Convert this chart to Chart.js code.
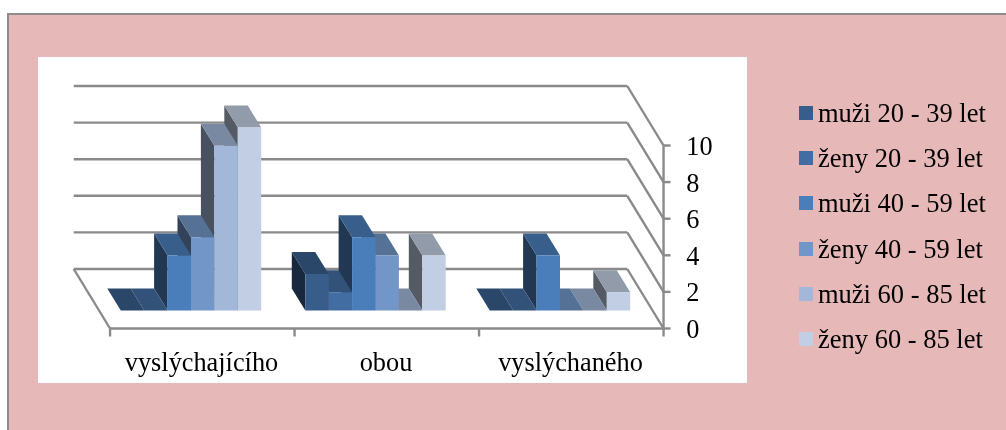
<!DOCTYPE html>
<html>
<head>
<meta charset="utf-8">
<title>Graf</title>
<script src="https://cdn.jsdelivr.net/npm/chart.js@4"></script>
<style>
  html, body { margin: 0; height: 100%; background: #fff; overflow: hidden; }
  #panel { position: absolute; left: 7px; top: 13px; right: 0; bottom: 0; background: #e6b8b7; border-left: 2px solid #8c8c8c; border-top: 2px solid #8c8c8c; }
  #plot { position: absolute; left: 38px; top: 57px; width: 709px; height: 326px; background: #fff; }
  #chart { position: absolute; left: 0; top: 0; }
  #legend { position: absolute; left: 799px; top: 91px; margin: 0; padding: 0; list-style: none; font: 26.5px "Liberation Serif", serif; color: #000; }
  #legend li { height: 45.2px; line-height: 45.2px; white-space: nowrap; position: relative; padding-left: 19px; }
  #legend i { position: absolute; left: 0; top: 15px; width: 14px; height: 14px; }
</style>
</head>
<body>
<div id="panel"></div>
<div id="plot"></div>
<canvas id="chart" width="1006" height="430"></canvas>
<ul id="legend"></ul>
<script>
const categories = ['vyslýchajícího', 'obou', 'vyslýchaného'];
const seriesNames = ['muži 20 - 39 let', 'ženy 20 - 39 let', 'muži 40 - 59 let', 'ženy 40 - 59 let', 'muži 60 - 85 let', 'ženy 60 - 85 let'];
const muzi2039 = [0, 2, 0];
const zeny2039 = [0, 1, 0];
const muzi4059 = [3, 4, 3];
const zeny4059 = [4, 3, 0];
const muzi6085 = [9, 0, 0];
const zeny6085 = [10, 3, 1];
const seriesValues = [muzi2039, zeny2039, muzi4059, zeny4059, muzi6085, zeny6085];
const seriesColors = ['#385d8a', '#426da3', '#4a7ebb', '#7396c8', '#a3b7d8', '#c1cee3'];
const yTicks = [0, 2, 4, 6, 8, 10];

// darker shade for the top and side faces of a bar
function shade(hex, f) {
  const n = parseInt(hex.slice(1), 16);
  return 'rgb(' + [n >> 16, (n >> 8) & 255, n & 255].map(c => Math.round(c * f)).join(',') + ')';
}

function poly(ctx, pts, color) {
  ctx.fillStyle = color;
  ctx.beginPath();
  pts.forEach((p, i) => i ? ctx.lineTo(p[0], p[1]) : ctx.moveTo(p[0], p[1]));
  ctx.closePath();
  ctx.fill();
}

const barDepth = { x: -13.5, y: -22 };
const frontPlane = { x: 11.3, y: 18 };
const backPlane = { x: -25, y: -41.5 };

// 3D box: gridlines and walls come from the scales, every bar gets side + top faces
const box3d = {
  id: 'box3d',
  beforeDatasetsDraw(chart) {
    const { ctx, scales: { x, y } } = chart;
    const bx0 = x.left + backPlane.x, bx1 = x.right + backPlane.x;
    const fx0 = x.left + frontPlane.x, fx1 = x.right + frontPlane.x;

    ctx.save();
    ctx.strokeStyle = '#8a8a8a';
    ctx.lineWidth = 2.4;
    const line = (x0, y0, x1, y1) => {
      ctx.beginPath();
      ctx.moveTo(x0, y0);
      ctx.lineTo(x1, y1);
      ctx.stroke();
    };
    yTicks.forEach(v => {
      const py = y.getPixelForValue(v);
      line(bx0, py + backPlane.y, bx1, py + backPlane.y);
      line(bx1, py + backPlane.y, fx1, py + frontPlane.y);
      line(fx1, py + frontPlane.y, fx1 + 7, py + frontPlane.y);
    });
    const y0 = y.getPixelForValue(0);
    line(bx0, y0 + backPlane.y, fx0, y0 + frontPlane.y);
    line(fx0, y0 + frontPlane.y, fx1, y0 + frontPlane.y);
    line(fx1, y.getPixelForValue(10) + frontPlane.y, fx1, y0 + frontPlane.y);
    categories.concat('').forEach((c, i) => {
      const px = x.getPixelForValue(i - 0.5) + frontPlane.x;
      line(px, y0 + frontPlane.y, px, y0 + frontPlane.y + 8);
    });

    // right to left, so each bar hides the lower part of its neighbour's side
    for (let i = chart.data.datasets.length - 1; i >= 0; i--) {
      const ds = chart.data.datasets[i];
      chart.getDatasetMeta(i).data.forEach(bar => {
        const l = bar.x - bar.width / 2, r = bar.x + bar.width / 2;
        const t = bar.y, b = bar.base;
        const dx = barDepth.x, dy = barDepth.y;
        poly(ctx, [[l, t], [l + dx, t + dy], [l + dx, b + dy], [l, b]], shade(ds.backgroundColor, 0.44));
        poly(ctx, [[l, t], [r, t], [r + dx, t + dy], [l + dx, t + dy]], shade(ds.backgroundColor, 0.75));
        bar.draw(ctx);
      });
    }
    ctx.restore();
    return false; // bars were painted above
  }
};

const chart = new Chart(document.getElementById('chart').getContext('2d'), {
  type: 'bar',
  data: {
    labels: categories,
    datasets: seriesNames.map((name, i) => ({
      label: name,
      data: seriesValues[i],
      backgroundColor: seriesColors[i],
      borderWidth: 0
    }))
  },
  options: {
    responsive: false,
    animation: false,
    layout: { padding: { left: 98.75, right: 293.75, top: 127.5, bottom: 49.5 } },
    datasets: { bar: { categoryPercentage: 0.761, barPercentage: 1 } },
    plugins: { legend: { display: false }, tooltip: { enabled: false } },
    scales: {
      x: {
        grid: { display: false, drawTicks: false },
        border: { display: false },
        ticks: { color: '#000', font: { family: 'Liberation Serif', size: 26.3 }, padding: 38, labelOffset: 10.5, maxRotation: 0 },
        afterFit(s) { s.height = 70; }
      },
      y: {
        position: 'right',
        min: 0,
        max: 10,
        grid: { display: false, drawTicks: false },
        border: { display: false },
        ticks: { stepSize: 2, color: '#000', font: { family: 'Liberation Serif', size: 26.3 }, padding: 34, labelOffset: 20.5 },
        afterFit(s) { s.width = 60; }
      }
    }
  },
  plugins: [box3d]
});

const legend = document.getElementById('legend');
chart.data.datasets.forEach(ds => {
  const li = document.createElement('li');
  const swatch = document.createElement('i');
  swatch.style.background = ds.backgroundColor;
  li.appendChild(swatch);
  li.appendChild(document.createTextNode(ds.label));
  legend.appendChild(li);
});
</script>
</body>
</html>
